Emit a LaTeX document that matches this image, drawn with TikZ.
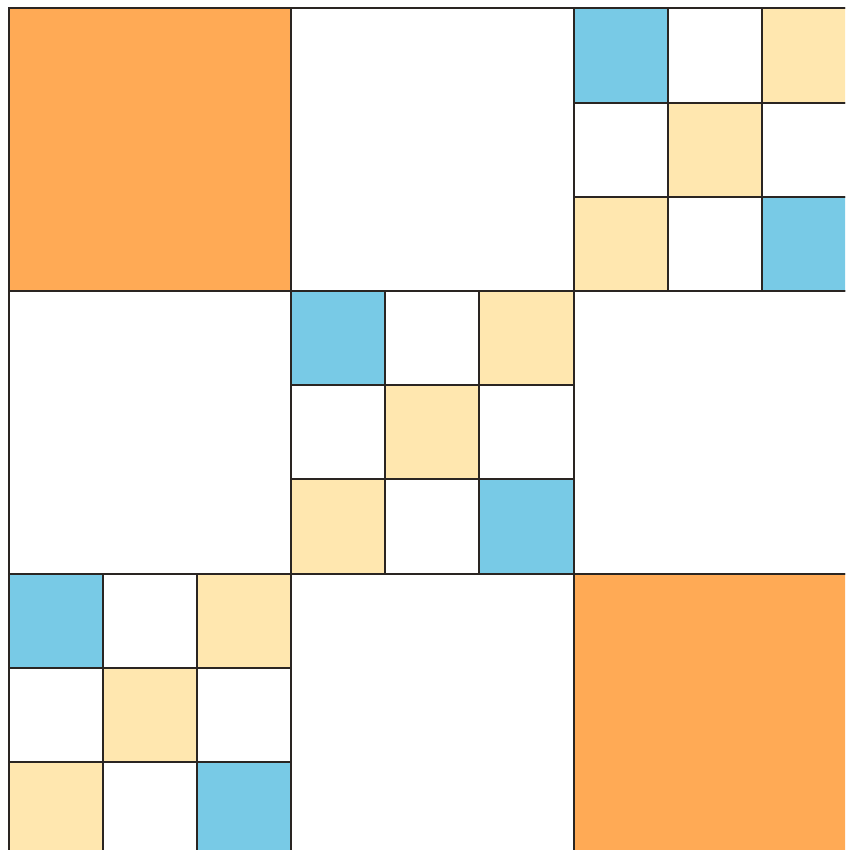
\documentclass[tikz,border=0pt]{standalone}
\definecolor{orangecell}{HTML}{FFAA55}
\definecolor{bluecell}{HTML}{78CAE6}
\definecolor{creamcell}{HTML}{FFE7AF}
\definecolor{gridline}{HTML}{2A2522}
\tikzset{
  edge/.style={draw=gridline, line width=2pt},
  bigorange/.style={fill=orangecell},
  bluebox/.style={fill=bluecell},
  creambox/.style={fill=creamcell}
}
\begin{document}
\begin{tikzpicture}[x=1pt,y=-1pt]
\useasboundingbox (0,0) rectangle (845,850);
\fill[white] (0,0) rectangle (845,850);
\clip (0,0) rectangle (845,850);
\def\ox{8.5}
\def\B{282.5}
\pgfmathsetmacro{\s}{\B/3}
% fills
\fill[bigorange] (\ox,\ox) rectangle ++(\B,\B);
\fill[bigorange] ({\ox+2*\B},{\ox+2*\B}) rectangle ++(\B,\B);
\foreach \br/\bc in {0/2,1/1,2/0}{
  \foreach \i in {0,1,2}{
    \foreach \j in {0,1,2}{
      \pgfmathsetmacro{\xa}{\ox+\bc*\B+\j*\s}
      \pgfmathsetmacro{\ya}{\ox+\br*\B+\i*\s}
      \pgfmathtruncatemacro{\kind}{(\i==\j && \i!=1) ? 1 : ((\i+\j==2) ? 2 : 0)}
      \ifcase\kind
      \or
        \fill[bluebox] (\xa,\ya) rectangle ++(\s,\s);
      \or
        \fill[creambox] (\xa,\ya) rectangle ++(\s,\s);
      \fi
    }
  }
}
% strokes
\foreach \r in {0,1,2}{
  \foreach \c in {0,1,2}{
    \pgfmathsetmacro{\xa}{\ox+\c*\B}
    \pgfmathsetmacro{\ya}{\ox+\r*\B}
    \draw[edge] (\xa,\ya) rectangle ++(\B,\B);
  }
}
\foreach \br/\bc in {0/2,1/1,2/0}{
  \foreach \i in {0,1,2}{
    \foreach \j in {0,1,2}{
      \pgfmathsetmacro{\xa}{\ox+\bc*\B+\j*\s}
      \pgfmathsetmacro{\ya}{\ox+\br*\B+\i*\s}
      \draw[edge] (\xa,\ya) rectangle ++(\s,\s);
    }
  }
}
\end{tikzpicture}
\end{document}
